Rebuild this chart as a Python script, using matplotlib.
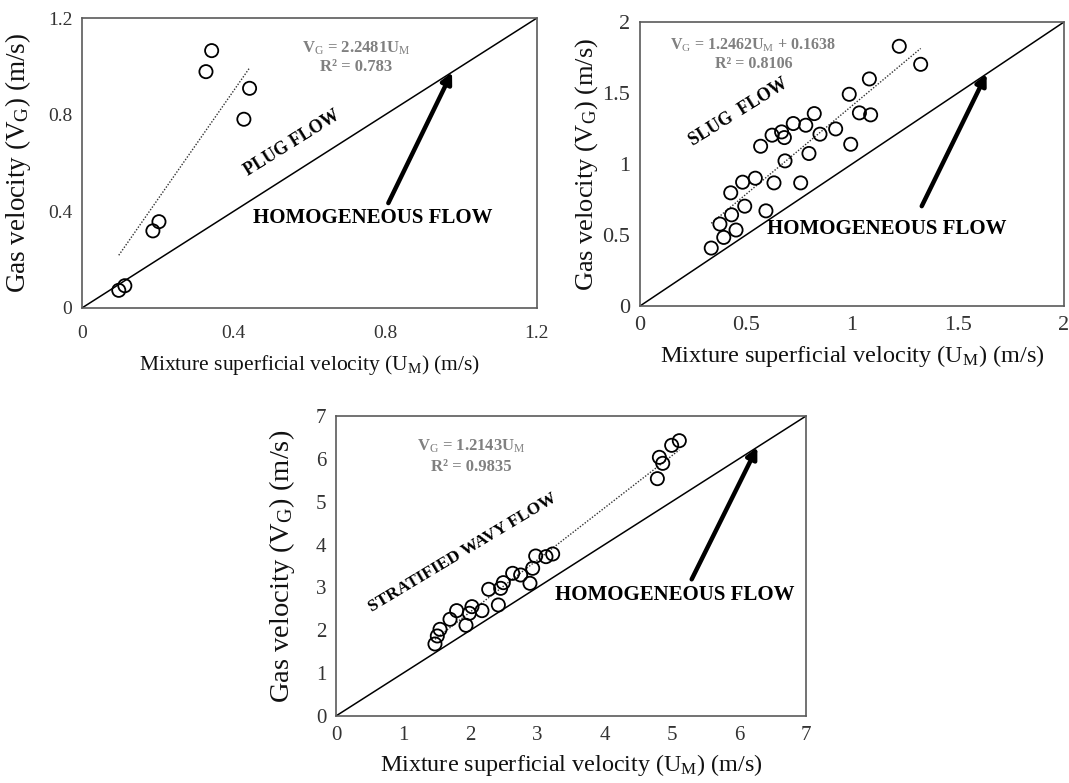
import numpy as np
import matplotlib
matplotlib.use("Agg")
import matplotlib.pyplot as plt

plt.rcParams['font.family'] = ['Liberation Serif', 'DejaVu Serif']
plt.rcParams['mathtext.fontset'] = 'custom'
plt.rcParams['mathtext.rm'] = 'Liberation Serif'
plt.rcParams['mathtext.it'] = 'Liberation Serif'
plt.rcParams['mathtext.bf'] = 'Liberation Serif:bold'

# plug flow measurements (U_M, V_G)
plug_um = [0.342, 0.327, 0.442, 0.427, 0.203, 0.187, 0.113, 0.097]
plug_vg = [1.065, 0.978, 0.909, 0.781, 0.357, 0.319, 0.092, 0.073]
plug_slope = 2.2481

# slug flow measurements
slug_um = [1.223, 1.324, 1.082, 0.987, 0.822, 1.035, 1.088, 0.723, 0.782, 0.668,
           0.623, 0.681, 0.923, 0.849, 0.569, 0.994, 0.797, 0.684, 0.544, 0.484,
           0.632, 0.758, 0.428, 0.494, 0.432, 0.594, 0.377, 0.453, 0.395, 0.336]
slug_vg = [1.829, 1.702, 1.599, 1.491, 1.355, 1.360, 1.346, 1.285, 1.273, 1.226,
           1.203, 1.186, 1.247, 1.210, 1.125, 1.139, 1.074, 1.022, 0.900, 0.872,
           0.867, 0.867, 0.797, 0.703, 0.642, 0.670, 0.577, 0.535, 0.483, 0.408]
slug_slope, slug_icpt = 1.2462, 0.1638

# stratified wavy flow measurements
sw_um = [5.113, 4.999, 4.816, 4.866, 4.786, 3.227, 3.127, 2.974, 2.929, 2.631,
         2.750, 2.889, 2.492, 2.452, 2.274, 2.418, 2.025, 1.986, 2.174, 1.797,
         1.698, 1.936, 1.549, 1.509, 1.474]
sw_vg = [6.424, 6.316, 6.036, 5.896, 5.538, 3.780, 3.718, 3.733, 3.446, 3.329,
         3.290, 3.096, 3.111, 2.979, 2.956, 2.590, 2.551, 2.396, 2.458, 2.458,
         2.256, 2.116, 2.022, 1.867, 1.680]
sw_slope = 1.2143

fig = plt.figure(figsize=(10.69, 7.83), dpi=100)
ax1 = fig.add_axes([0.0767, 0.6067, 0.4256, 0.3703])
ax2 = fig.add_axes([0.5987, 0.6092, 0.3966, 0.3627])
ax3 = fig.add_axes([0.3143, 0.0856, 0.4397, 0.3831])

xlab = r"Mixture superficial velocity (U$_\mathrm{M}$) (m/s)"
ylab = r"Gas velocity (V$_\mathrm{G}$) (m/s)"
eqcol = '#808080'


def style(ax, lim, ticks, ticklabels, xpad, tsize, xsize, ysize, ylx, xly):
    ax.set_xlim(0, lim)
    ax.set_ylim(0, lim)
    ax.set_xticks(ticks)
    ax.set_yticks(ticks)
    ax.set_xticklabels(ticklabels)
    ax.set_yticklabels(ticklabels)
    ax.tick_params(length=0, labelsize=tsize, colors='#333333')
    ax.tick_params(axis='x', pad=xpad)
    ax.tick_params(axis='y', pad=7)
    for s in ax.spines.values():
        s.set_color('#5a5a5a')
        s.set_linewidth(1.2)
    ax.set_xlabel(xlab, fontsize=xsize, color='#111111')
    ax.set_ylabel(ylab, fontsize=ysize, color='#111111')
    ax.yaxis.set_label_coords(ylx, 0.5)
    ax.xaxis.set_label_coords(0.5, xly)
    # homogeneous line
    ax.plot([0, lim], [0, lim], color='black', lw=1.1)


def points(ax, x, y):
    ax.scatter(x, y, s=90, facecolors='none', edgecolors='black', linewidths=1.3, zorder=3)


def arrow(ax, tail, head):
    ax.annotate('', xy=head, xytext=tail,
                arrowprops=dict(arrowstyle='-|>', color='black', lw=3.2, mutation_scale=16,
                                shrinkA=0, shrinkB=0))


# panel 1 - plug flow
style(ax1, 1.2, [0, 0.4, 0.8, 1.2], ['0', '0.4', '0.8', '1.2'], 12, 14, 15.5, 19.5, -0.108, -0.155)
points(ax1, plug_um, plug_vg)
xt = np.array([min(plug_um), max(plug_um)])
ax1.plot(xt, plug_slope * xt, color='#333333', lw=1.0, ls=(0, (1, 1.2)))
ax1.text(0.724, 1.076, r"V$_\mathrm{G}$ = 2.2481U$_\mathrm{M}$", color=eqcol, fontsize=12,
         fontweight='bold', ha='center', va='center')
ax1.text(0.724, 0.997, "R² = 0.783", color=eqcol, fontsize=12, fontweight='bold',
         ha='center', va='center')
ax1.text(0.553, 0.683, "PLUG FLOW", rotation=32, fontsize=13, fontweight='bold',
         ha='center', va='center')
ax1.text(0.766, 0.372, "HOMOGENEOUS FLOW", fontsize=15, fontweight='bold', ha='center', va='center')
arrow(ax1, (0.808, 0.434), (0.976, 0.976))

# panel 2 - slug flow
style(ax2, 2, [0, 0.5, 1, 1.5, 2], ['0', '0.5', '1', '1.5', '2'], 7, 16, 17.5, 19, -0.094, -0.13)
points(ax2, slug_um, slug_vg)
xt = np.array([min(slug_um), max(slug_um)])
ax2.plot(xt, slug_slope * xt + slug_icpt, color='#333333', lw=1.0, ls=(0, (1, 1.2)))
ax2.text(0.535, 1.836, r"V$_\mathrm{G}$ = 1.2462U$_\mathrm{M}$ + 0.1638", color=eqcol,
         fontsize=11.5, fontweight='bold', ha='center', va='center')
ax2.text(0.535, 1.707, "R² = 0.8106", color=eqcol, fontsize=11.5, fontweight='bold',
         ha='center', va='center')
ax2.text(0.464, 1.367, "SLUG  FLOW", rotation=32, fontsize=13, fontweight='bold',
         ha='center', va='center')
ax2.text(1.162, 0.539, "HOMOGENEOUS FLOW", fontsize=15, fontweight='bold', ha='center', va='center')
arrow(ax2, (1.329, 0.703), (1.635, 1.635))

# panel 3 - stratified wavy flow
style(ax3, 7, list(range(8)), [str(i) for i in range(8)], 7, 15, 17.4, 20.5, -0.083, -0.12)
points(ax3, sw_um, sw_vg)
xt = np.array([min(sw_um), max(sw_um)])
ax3.plot(xt, sw_slope * xt, color='#333333', lw=1.0, ls=(0, (1, 1.2)))
ax3.text(2.021, 6.284, r"V$_\mathrm{G}$ = 1.2143U$_\mathrm{M}$", color=eqcol, fontsize=12,
         fontweight='bold', ha='center', va='center')
ax3.text(2.021, 5.802, "R² = 0.9835", color=eqcol, fontsize=12, fontweight='bold',
         ha='center', va='center')
ax3.text(1.882, 3.796, "STRATIFIED WAVY FLOW", rotation=31, fontsize=12.5, fontweight='bold',
         ha='center', va='center')
ax3.text(5.044, 2.823, "HOMOGENEOUS FLOW", fontsize=15, fontweight='bold', ha='center', va='center')
arrow(ax3, (5.297, 3.189), (6.275, 6.275))

fig.savefig("out.png", dpi=100)
